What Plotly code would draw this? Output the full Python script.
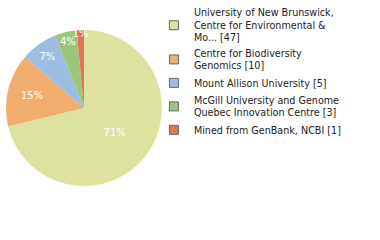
import plotly.graph_objects as go

labels = ["University of New Brunswick,<br>Centre for Environmental &<br>Mo... [47]",
          "Centre for Biodiversity<br>Genomics [10]",
          "Mount Allison University [5]",
          "McGill University and Genome<br>Quebec Innovation Centre [3]",
          "Mined from GenBank, NCBI [1]"]
values = [47, 10, 5, 3, 1]
colors = ["#dde39e", "#f0ad6e", "#9dbde0", "#9dc57a", "#e0735a"]

total = sum(values)
pct_text = [f"{int(v * 100 / total)}%" for v in values]

fig = go.Figure()
fig.add_trace(go.Pie(
    labels=labels, values=values, text=pct_text, textinfo="text",
    textposition="inside", insidetextorientation="horizontal",
    textfont=dict(color="white", size=10, family="DejaVu Sans"),
    marker=dict(colors=colors, line=dict(width=0)),
    sort=False, direction="clockwise", rotation=0,
    domain=dict(x=[6/380, 162/380], y=[0.225, 0.875]),
    showlegend=False, hoverinfo="label+value",
))
for lab, col in zip(labels, colors):
    fig.add_trace(go.Scatter(
        x=[None], y=[None], mode="markers", name=lab,
        marker=dict(symbol="square", size=9, color=col, line=dict(color="#666", width=1)),
    ))
fig.update_layout(
    width=380, height=240, margin=dict(l=0, r=0, t=0, b=0),
    paper_bgcolor="white", plot_bgcolor="white",
    xaxis=dict(visible=False), yaxis=dict(visible=False),
    uniformtext=dict(minsize=10, mode="show"),
    legend=dict(x=0.405, y=1.0, xanchor="left", yanchor="top",
                font=dict(size=9.6, family="DejaVu Sans", color="#222"),
                itemwidth=30, tracegroupgap=0, bgcolor="rgba(0,0,0,0)"),
)
fig.write_html("out.html")
